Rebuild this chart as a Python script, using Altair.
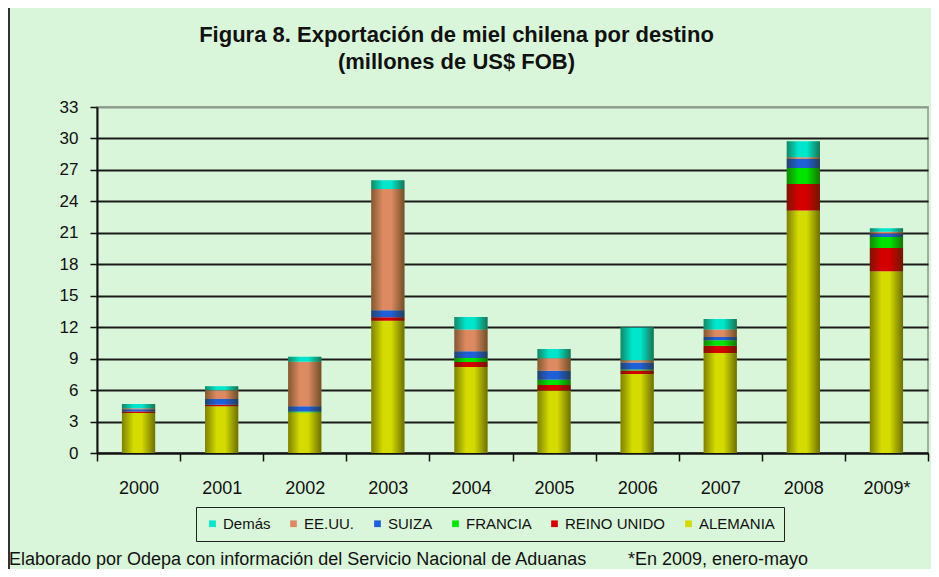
import altair as alt
import pandas as pd

years = ["2000", "2001", "2002", "2003", "2004", "2005", "2006", "2007", "2008", "2009*"]
series = ["ALEMANIA", "REINO UNIDO", "FRANCIA", "SUIZA", "EE.UU.", "Demás"]
alemania = [3.82, 4.45, 3.87, 12.62, 8.20, 5.97, 7.54, 9.54, 23.12, 17.33]
reino_unido = [0.15, 0.16, 0.00, 0.32, 0.48, 0.51, 0.32, 0.70, 2.54, 2.23]
francia = [0.00, 0.00, 0.10, 0.00, 0.38, 0.51, 0.10, 0.51, 1.53, 1.05]
suiza = [0.20, 0.54, 0.48, 0.67, 0.64, 0.86, 0.67, 0.32, 0.86, 0.32]
eeuu = [0.10, 0.83, 4.26, 11.57, 2.07, 1.18, 0.22, 0.70, 0.16, 0.16]
demas = [0.40, 0.38, 0.48, 0.83, 1.21, 0.89, 3.12, 1.02, 1.53, 0.35]
colors = ["#d3db00", "#d40000", "#00e400", "#1f5fd8", "#dd8a62", "#00e6cc"]
legend_order = ["Demás", "EE.UU.", "SUIZA", "FRANCIA", "REINO UNIDO", "ALEMANIA"]
y_ticks = [0, 3, 6, 9, 12, 15, 18, 21, 24, 27, 30, 33]
title_lines = ["Figura 8. Exportación de miel chilena por destino", "(millones de US$ FOB)"]
footer_left = "Elaborado por Odepa con información del Servicio Nacional de Aduanas"
footer_right = "*En 2009, enero-mayo"

values = [alemania, reino_unido, francia, suiza, eeuu, demas]
rows = []
for si, (name, vals) in enumerate(zip(series, values)):
    for yr, v in zip(years, vals):
        rows.append({"year": yr, "dest": name, "value": v, "order": si})
df = pd.DataFrame(rows)
totals = pd.DataFrame({"year": years, "total": [sum(v[i] for v in values) for i in range(len(years))]})

BG = "#daf6da"
W, H = 831, 346
PL, PT, PR, PB = 89, 99, 3, 116

xscale = alt.Scale(paddingInner=0, paddingOuter=0)
xaxis = alt.Axis(title=None, labelAngle=0, labelFontSize=18, labelColor="#111",
                 labelFont="Liberation Sans", tickBand="extent", tickSize=8,
                 tickColor="#111", tickWidth=1.5, domainColor="#111", domainWidth=2,
                 labelPadding=18, grid=False)
yscale = alt.Scale(domain=[0, 33], nice=False, zero=True)
yaxis = alt.Axis(title=None, values=y_ticks, tickCount=12, labelFontSize=17, labelColor="#111",
                 labelFont="Liberation Sans", tickSize=7, tickColor="#111",
                 tickWidth=1.5, domainColor="#111", domainWidth=2, labelPadding=12,
                 labelOverlap=False, grid=True, gridWidth=2,
                 gridColor=alt.condition("datum.value == 33", alt.value("#8a9a8a"), alt.value("#1a1a1a")))

bars = alt.Chart(df).mark_bar(width=alt.RelativeBandSize(0.4)).encode(
    x=alt.X("year:N", sort=years, scale=xscale, axis=xaxis),
    y=alt.Y("value:Q", stack="zero", scale=yscale, axis=yaxis),
    color=alt.Color("dest:N",
                    scale=alt.Scale(domain=series, range=colors),
                    sort=legend_order,
                    legend=alt.Legend(title=None, orient="none", legendX=99, legendY=400,
                                      direction="horizontal", columns=6, symbolType="square",
                                      symbolSize=45, symbolStrokeWidth=0, labelFontSize=15,
                                      labelFont="Liberation Sans", labelColor="#111",
                                      columnPadding=15, labelOffset=3, padding=9,
                                      strokeColor="#222", fillColor=BG, values=legend_order)),
    order=alt.Order("order:Q", sort="ascending"),
)

shade = alt.Chart(totals).mark_bar(
    width=alt.RelativeBandSize(0.4),
    color=alt.Gradient(gradient="linear", x1=0, x2=1, y1=0, y2=0,
                       stops=[alt.GradientStop(color="rgba(40,40,0,0.5)", offset=0),
                              alt.GradientStop(color="rgba(40,40,0,0)", offset=0.35),
                              alt.GradientStop(color="rgba(40,40,0,0)", offset=0.6),
                              alt.GradientStop(color="rgba(40,40,0,0.6)", offset=1)])
).encode(x=alt.X("year:N", sort=years, scale=xscale, axis=xaxis),
         y=alt.Y("total:Q", scale=yscale, axis=yaxis))

frame_df = pd.DataFrame({"k": [1]})
frame = alt.Chart(frame_df).mark_rect(filled=False, stroke="#333", strokeWidth=2).encode(
    x=alt.value(-PL + 1), x2=alt.value(W + 60), y=alt.value(-PT - 1), y2=alt.value(H + 200))

foot_df = pd.DataFrame({"t": [footer_left, footer_right], "px": [-88, 531]})
footer = alt.Chart(foot_df).mark_text(align="left", baseline="alphabetic", fontSize=18,
                                      font="Liberation Sans", color="#111").encode(
    text="t:N", x=alt.X("px:Q", scale=None), y=alt.value(458))

chart = alt.layer(bars, shade, frame, footer).properties(
    width=W, height=H,
    autosize=alt.AutoSizeParams(type="none"),
    padding={"left": PL, "top": PT, "right": PR, "bottom": PB},
    background=BG,
    title=alt.TitleParams(text=title_lines, fontSize=22, font="Liberation Sans", fontWeight="bold",
                          color="#111", anchor="middle", dx=-56, offset=-68, lineHeight=27),
).configure_view(stroke="#8a9a8a", strokeWidth=1.5, fill=BG)

chart.save("out.html", embed_options={"renderer": "svg", "actions": False})
